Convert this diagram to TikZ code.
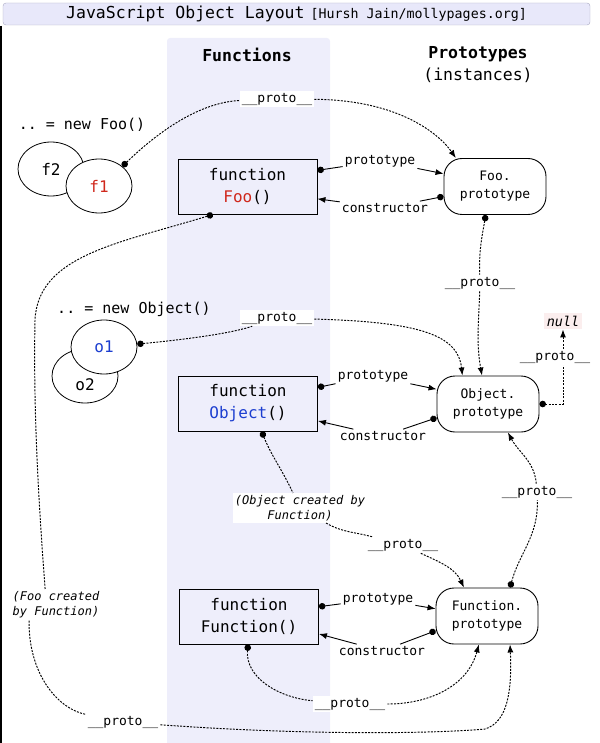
\documentclass[tikz,border=0pt]{standalone}
\usepackage{fontspec}
\setmonofont{DejaVu Sans Mono}
\usetikzlibrary{arrows.meta,shapes.geometric,positioning}
\definecolor{colbg}{HTML}{EEEEFB}
\definecolor{barbg}{HTML}{E8E8FA}
\definecolor{barln}{HTML}{A9A9C2}
\definecolor{foored}{HTML}{D0281C}
\definecolor{objblue}{HTML}{1C3ED0}
\definecolor{nullbg}{HTML}{FBEEEE}

\begin{document}
\begin{tikzpicture}[x=1pt,y=1pt,font=\ttfamily,
  fnbox/.style={draw,line width=0.9pt,minimum width=139pt,minimum height=55pt,align=center,inner sep=0pt,font=\ttfamily\fontsize{16}{22}\selectfont},
  protobox/.style={draw,line width=0.9pt,rounded corners=18pt,minimum width=102pt,minimum height=56pt,align=center,inner sep=0pt,font=\ttfamily\fontsize{13}{18}\selectfont},
  blob/.style={ellipse,draw,line width=0.8pt,fill=white,minimum width=66pt,minimum height=54pt,inner sep=0pt,font=\ttfamily\fontsize{16}{18}\selectfont},
  lbl/.style={fill=white,inner sep=2pt,font=\ttfamily\fontsize{13}{15}\selectfont},
  note/.style={fill=white,inner sep=2pt,font=\ttfamily\itshape\fontsize{12}{15}\selectfont},
  link/.style={line width=0.95pt,dash pattern=on 2pt off 1.3pt},
  solidl/.style={line width=0.9pt},
  dotstart/.style={arrows={Circle[length=6.5pt]-}},
  tipend/.style={arrows={-Latex[length=8pt,width=6pt]}},
  bothends/.style={arrows={Circle[length=6.5pt]-Latex[length=8pt,width=6pt]}}]
\useasboundingbox (0,0) rectangle (599,-743);

\fill[colbg,rounded corners=3pt] (167,-743) -- (167,-38) -- (330,-38) -- (330,-743);
\draw[line width=2pt] (1,-26) -- (1,-743);
\node[draw=barln,fill=barbg,rounded corners=3pt,minimum width=587pt,minimum height=22pt,inner sep=0pt] (title) at (296.5,-14)
  {{\fontsize{16.5}{18}\selectfont JavaScript Object Layout} {\fontsize{13.3}{14}\selectfont[Hursh Jain/mollypages.org]}};

\node[font=\ttfamily\bfseries\fontsize{16.5}{20}\selectfont] (fnhead) at (247,-55) {Functions};
\node[align=center,font=\ttfamily\fontsize{16.5}{22}\selectfont] (prhead) at (478,-65) {{\bfseries Prototypes}\\(instances)};

\node[font=\ttfamily\fontsize{15}{18}\selectfont] (newFoo) at (82,-125) {.. = new Foo()};
\node[blob] (f2) at (51,-169) {f2};
\node[blob,text=foored] (f1) at (99,-186) {f1};
\node[fnbox] (Foo) at (247.5,-186.5) {function\\{\color{foored}Foo}()};
\node[protobox] (FooP) at (495,-186.5) {Foo.\\prototype};
\node[lbl] (topP) at (277,-99) {\_\_proto\_\_};
\node[lbl] (pFoo) at (380,-161) {prototype};
\node[lbl] (cFoo) at (385,-208) {constructor};
\node[lbl] (fpP) at (480,-283) {\_\_proto\_\_};

\node[font=\ttfamily\fontsize{15}{18}\selectfont] (newObj) at (134,-309) {.. = new Object()};
\node[blob,label={[font=\ttfamily\fontsize{16}{18}\selectfont,yshift=-9pt]center:o2}] (o2) at (85,-376) {};
\node[blob,text=objblue] (o1) at (104,-347) {o1};
\node[fnbox] (Obj) at (248,-403.5) {function\\{\color{objblue}Object}()};
\node[protobox] (ObjP) at (488,-404) {Object.\\prototype};
\node[lbl] (otP) at (277,-318) {\_\_proto\_\_};
\node[lbl] (pObj) at (373,-376) {prototype};
\node[lbl] (cObj) at (383,-436) {constructor};
\node[fill=nullbg,inner sep=3pt,font=\ttfamily\itshape\fontsize{13.5}{15}\selectfont] (null) at (563,-321) {null};
\node[note,align=center] (objBy) at (300,-508) {(Object created by\\Function)};
\node[lbl] (ofP) at (403,-545) {\_\_proto\_\_};
\node[lbl] (ffP) at (537,-492) {\_\_proto\_\_};

\node[fnbox] (Fn) at (249,-616.5) {function\\Function()};
\node[protobox] (FnP) at (487,-616) {Function.\\prototype};
\node[lbl] (pFn) at (378,-599) {prototype};
\node[lbl] (cFn) at (382,-651) {constructor};
\node[lbl] (fnP) at (350,-704) {\_\_proto\_\_};
\node[note,align=left] (fooBy) at (56,-605) {(Foo created\\by Function)};
\node[lbl] (botP) at (123,-722) {\_\_proto\_\_};

\draw[link,dotstart] (f1.40) .. controls (165,-125) and (205,-102) .. (topP);
\draw[link,tipend] (topP) .. controls (400,-100) and (440,-135) .. (FooP.144);
\draw[solidl,dotstart] (Foo.13) -- (pFoo);
\draw[solidl,tipend] (pFoo) -- (FooP.166);
\draw[solidl,dotstart] (FooP.191) -- (cFoo);
\draw[solidl,tipend] (cFoo) -- (Foo.-10);
\draw[link,dotstart] (FooP.-108) to[out=-100,in=92] (fpP);
\draw[link,tipend] (fpP) to[out=-92,in=100] (ObjP.102);

\draw[link,dotstart] (o1.5) .. controls (200,-338) and (235,-332) .. (otP);
\draw[link,tipend] (otP) .. controls (420,-322) and (458,-335) .. (ObjP.132);
\draw[solidl,dotstart] (Obj.13) -- (pObj);
\draw[solidl,tipend] (pObj) -- (ObjP.164);
\draw[solidl,dotstart] (ObjP.195) -- (cObj);
\draw[solidl,tipend] (cObj) -- (Obj.-14);
\draw[link,bothends] (ObjP.east) -| (null.south);
\node[lbl] (npP) at (555,-357) {\_\_proto\_\_};
\draw[link,dotstart] (Obj.-64) to[out=-68,in=115] (objBy);
\draw[link] (objBy) to[out=-30,in=165] (ofP);
\draw[link,tipend] (ofP) to[out=-25,in=115] (FnP.129);
\draw[link,dotstart] (FnP.51) to[out=75,in=-88] (ffP);
\draw[link,tipend] (ffP) to[out=95,in=-62] (ObjP.-55);

\draw[solidl,dotstart] (Fn.8) -- (pFn);
\draw[solidl,tipend] (pFn) -- (FnP.172);
\draw[solidl,dotstart] (FnP.196) -- (cFn);
\draw[solidl,tipend] (cFn) -- (Fn.-14);
\draw[link,dotstart] (Fn.-92) to[out=-95,in=175] (fnP);
\draw[link,tipend] (fnP) to[out=0,in=-105] (FnP.-106);

\draw[link,dotstart] (Foo.-141) .. controls (120,-243) and (38,-255) .. (35,-320) .. controls (33,-420) and (40,-520) .. (fooBy.125);
\draw[link] (fooBy.-150) .. controls (28,-670) and (55,-708) .. (botP);
\draw[link,tipend] (botP) .. controls (300,-735) and (430,-734) .. (485,-729) .. controls (508,-722) and (512,-690) .. (FnP.-51);
\end{tikzpicture}
\end{document}
